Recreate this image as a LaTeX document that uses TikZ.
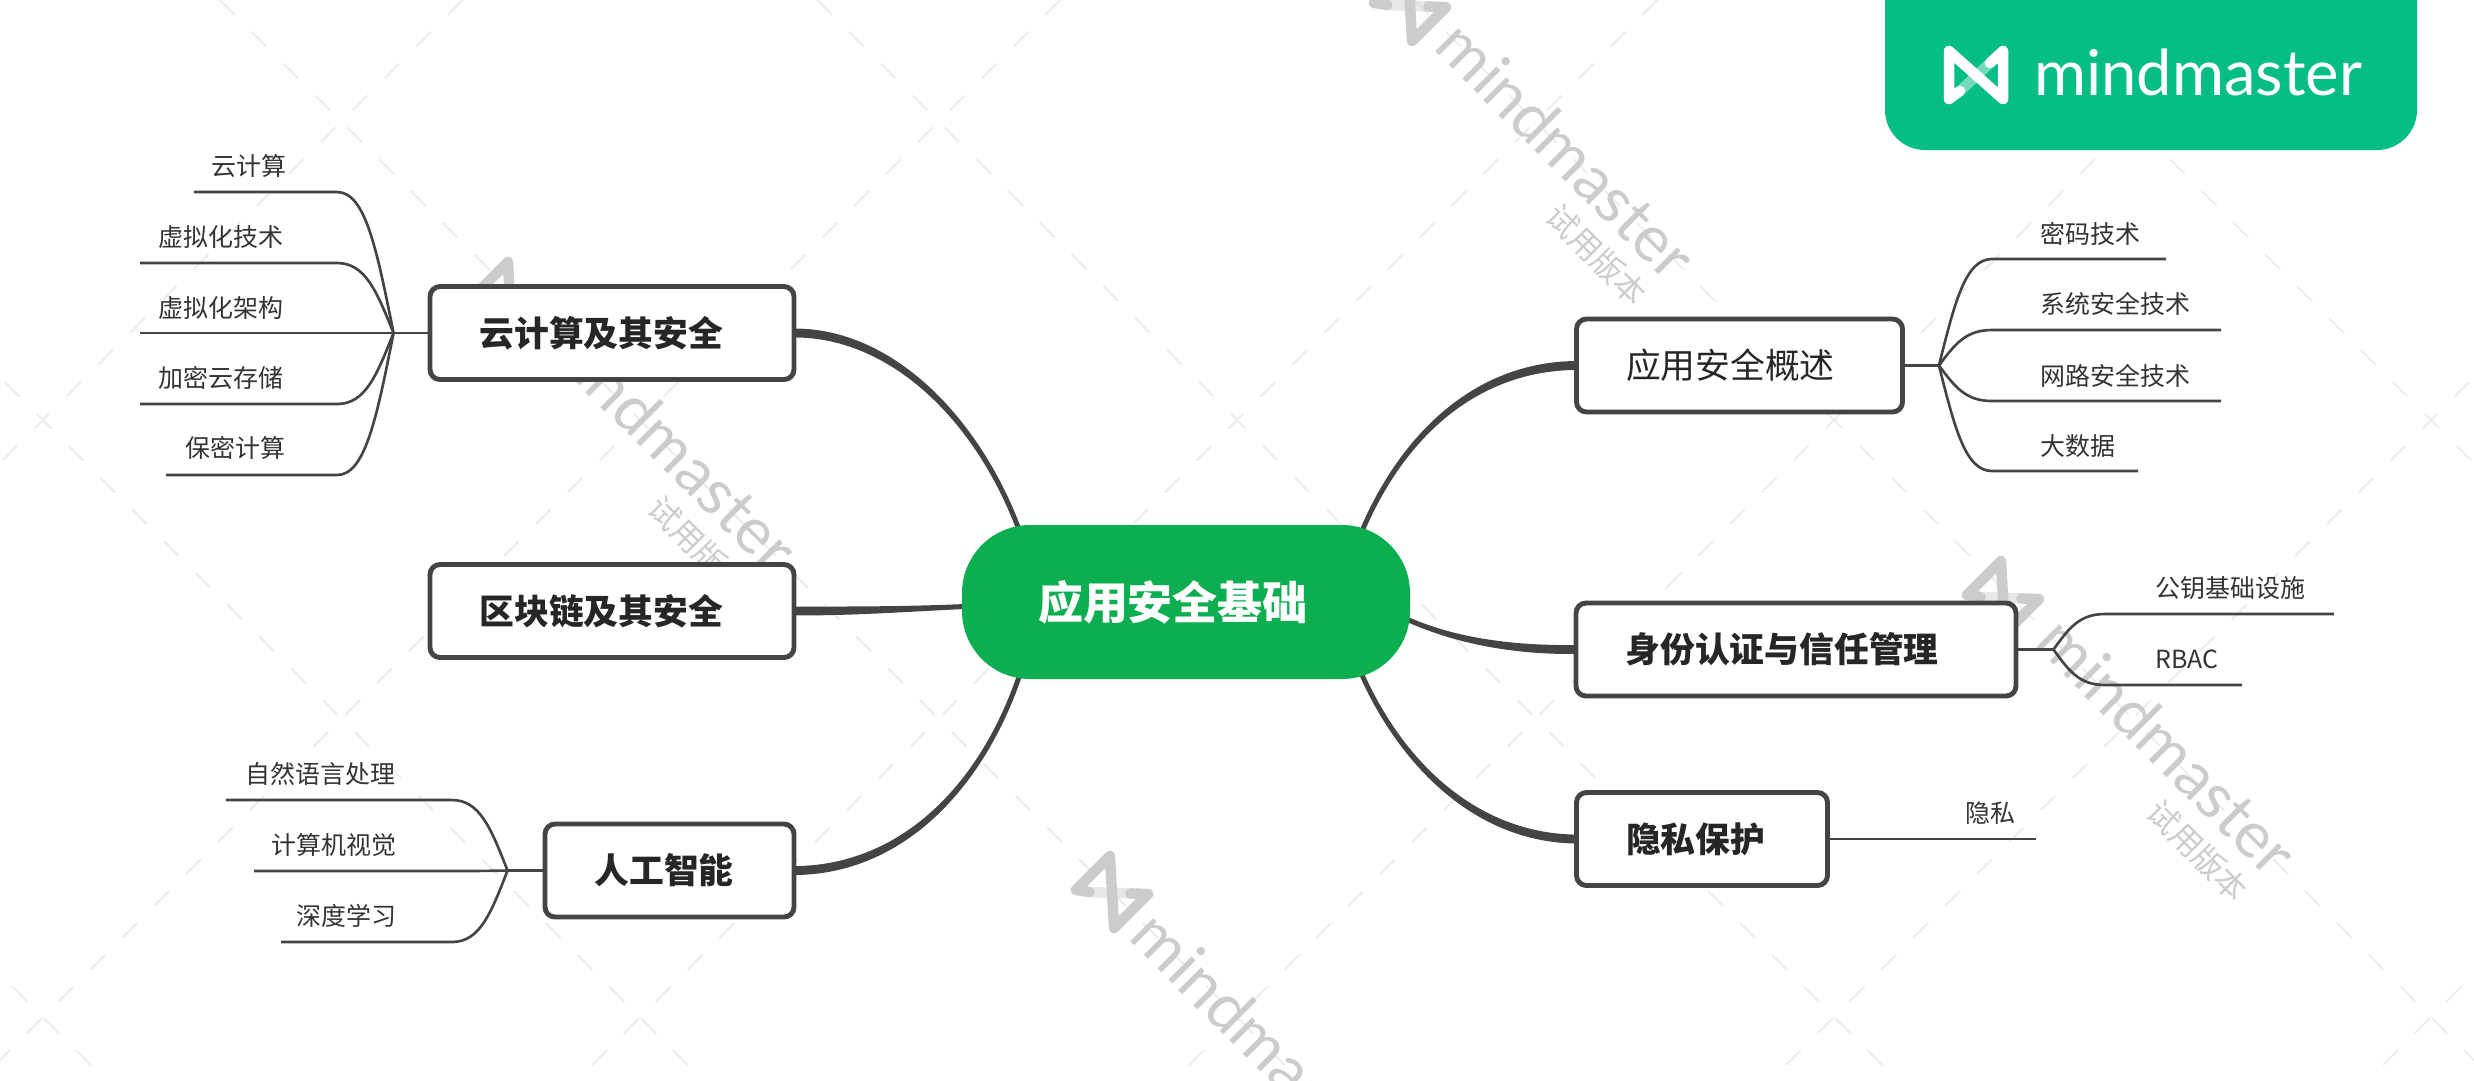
\documentclass[tikz,border=0pt]{standalone}
\usepackage{fontspec}
\setmainfont{Noto Sans CJK SC}
\newfontfamily\logofont{Lato}
\usetikzlibrary{calc,backgrounds}
\definecolor{rootgreen}{HTML}{0CAE50}
\definecolor{logogreen}{HTML}{05BD85}
\definecolor{inkgrey}{HTML}{444444}
\definecolor{wmgrey}{HTML}{CACCCE}

\begin{document}
\begin{tikzpicture}[x=0.1mm,y=-0.1mm,
  topicbox/.style={draw=inkgrey,line width=1.4pt,fill=white,rounded corners=0.1cm,align=left,inner xsep=0.495cm,minimum height=0.93cm,text=black!85,font=\fontsize{9.9pt}{12pt}\selectfont},
  leaf/.style={inner sep=0pt,text=black!80,font=\fontsize{7.1pt}{9pt}\selectfont},
  twig/.style={draw=inkgrey,line width=0.75pt},
  trunk/.style={draw=inkgrey,fill=inkgrey,line width=1.4pt,line join=round},
  wmark/.style={rotate=-45,text=wmgrey,inner sep=0pt,font=\logofont\fontsize{18.3pt}{20pt}\selectfont},
  wmnote/.style={rotate=-45,text=black!20,inner sep=0pt,font=\fontsize{9pt}{11pt}\selectfont},
  wmgrid/.style={draw=black!8,line width=0.5pt,dash pattern=on 0.21cm off 0.24cm}]

\newcommand{\mytwig}[3]{% hub, bend x, free end
\draw[twig] let \p1=(#1), \p2=(#3), \p3=(#2,0) in (#1) .. controls ({\x1+0.3*(\x3-\x1)},{\y1+0.6*(\y2-\y1)}) and ({0.5*(\x1+\x3)},\y2) .. (\x3,\y2) -- (#3);
}
\newcommand{\mybranch}[4]{% thick end, thin end, control 1, control 2
\filldraw[trunk] ($(#1)+(0,-2)$) .. controls ($(#3)+(0,-2)$) and (#4) .. (#2) .. controls (#4) and ($(#3)+(0,2)$) .. ($(#1)+(0,2)$) -- cycle;
}
\newcommand{\myicon}[4]{% x, y, angle, colour
\begin{scope}[shift={(#1,#2)},rotate=#3]
\draw[#4,line width=3pt,line join=round,line cap=round] (-16,16) -- (-27,24) -- (-27,-24) -- (27,24) -- (27,-24) -- (14,-12);
\draw[#4,opacity=0.45,line width=3pt] (-16,16) -- (14,-12);
\end{scope}
}

\useasboundingbox (0,0) rectangle (2474,1080);

%watermark
\begin{scope}[on background layer]
\clip (0,0) rectangle (2474,1080);
\foreach \s in {463,1060,1657,2254,2851,3448} {
  \draw[wmgrid] (\s,0) -- (\s-1080,1080);
}
\foreach \s in {-974,-377,220,817,1414,2011} {
  \draw[wmgrid] (\s,0) -- (\s+1080,1080);
}
\myicon{1410}{5}{-45}{wmgrey}
\node[wmark] (wmtop) at (1567,150) {mindmaster};
\node[wmnote] (wmtopnote) at (1597,255) {试用版本};
\myicon{510}{298}{-45}{wmgrey}
\node[wmark] (wmleft) at (669,442) {mindmaster};
\node[wmnote] (wmleftnote) at (699,547) {试用版本};
\myicon{2003}{597}{-45}{wmgrey}
\node[wmark] (wmright) at (2168,746) {mindmaster};
\node[wmnote] (wmrightnote) at (2198,851) {试用版本};
\myicon{1112}{892}{-45}{wmgrey}
\node[wmark] (wmbottom) at (1262,1040) {mindmaster};
\end{scope}

%logo
\begin{scope}
\clip (0,0) rectangle (2474,1080);
\node[fill=logogreen,rounded corners=0.4cm,minimum width=5.32cm,minimum height=2.5cm,inner sep=0pt] (logobox) at (2151,25) {};
\myicon{1976}{75}{0}{white}
\node[text=white,inner sep=0pt,font=\logofont\fontsize{18pt}{20pt}\selectfont] (logotext) at (2198,72) {mindmaster};
\end{scope}

%root
\node[fill=rootgreen,text=white,rounded corners=0.68cm,align=left,inner xsep=0.76cm,text width=2.96cm,minimum height=1.54cm,font=\fontsize{12.8pt}{15pt}\selectfont\bfseries] (root) at (1186,602) {应用安全基础};

%topics on the left
\node[topicbox,text width=2.65cm,font=\fontsize{9.9pt}{12pt}\selectfont\bfseries] (cloud) at (612,333) {云计算及其安全};
\node[topicbox,text width=2.65cm,font=\fontsize{9.9pt}{12pt}\selectfont\bfseries] (chain) at (612,611) {区块链及其安全};
\node[topicbox,text width=1.50cm,font=\fontsize{9.9pt}{12pt}\selectfont\bfseries] (ai) at (669.5,870.5) {人工智能};
%topics on the right
\node[topicbox,text width=2.27cm] (overview) at (1739.5,365.5) {应用安全概述};
\node[topicbox,text width=3.41cm,font=\fontsize{9.9pt}{12pt}\selectfont\bfseries] (identity) at (1796,649.5) {身份认证与信任管理};
\node[topicbox,text width=1.52cm,font=\fontsize{9.9pt}{12pt}\selectfont\bfseries] (privacy) at (1702,839) {隐私保护};

%trunks
\coordinate (rootcloud) at (1018,527);
\coordinate (rootchain) at (975,606);
\coordinate (rootai) at (1019,677);
\coordinate (rootoverview) at (1362,531);
\coordinate (rootidentity) at (1400,616);
\coordinate (rootprivacy) at (1362,675);
\begin{scope}[on background layer]
\mybranch{cloud.east}{rootcloud}{890,334}{975,415}
\mybranch{chain.east}{rootchain}{860,611}{910,609}
\mybranch{ai.east}{rootai}{900,869}{980,790}
\mybranch{overview.west}{rootoverview}{1480,367}{1405,430}
\mybranch{identity.west}{rootidentity}{1510,650}{1450,640}
\mybranch{privacy.west}{rootprivacy}{1480,837}{1405,770}
\end{scope}

%cloud leaves
\coordinate (hubcloud) at ($(cloud.west)+(-34,0)$);
\draw[twig] (cloud.west) -- (hubcloud);
\node[leaf,anchor=east] (yunjisuan) at (287,166) {云计算};
\coordinate (yunjisuanend) at (194,192);
\mytwig{hubcloud}{337}{yunjisuanend}
\node[leaf,anchor=east] (xunijishu) at (284,237) {虚拟化技术};
\coordinate (xunijishuend) at (140,263);
\mytwig{hubcloud}{337}{xunijishuend}
\node[leaf,anchor=east] (xunijiagou) at (284,308) {虚拟化架构};
\coordinate (xunijiagouend) at (140,333);
\mytwig{hubcloud}{337}{xunijiagouend}
\node[leaf,anchor=east] (jiami) at (284,378) {加密云存储};
\coordinate (jiamiend) at (140,404);
\mytwig{hubcloud}{337}{jiamiend}
\node[leaf,anchor=east] (baomi) at (286,448) {保密计算};
\coordinate (baomiend) at (166,475);
\mytwig{hubcloud}{337}{baomiend}

%ai leaves
\coordinate (hubai) at ($(ai.west)+(-35,0)$);
\draw[twig] (ai.west) -- (hubai);
\node[leaf,anchor=east] (ziran) at (396,774) {自然语言处理};
\coordinate (ziranend) at (226,800);
\mytwig{hubai}{452}{ziranend}
\node[leaf,anchor=east] (shijue) at (397,845) {计算机视觉};
\coordinate (shijueend) at (254,871);
\mytwig{hubai}{452}{shijueend}
\node[leaf,anchor=east] (shendu) at (397,916) {深度学习};
\coordinate (shenduend) at (281,942);
\mytwig{hubai}{452}{shenduend}

%overview leaves
\coordinate (huboverview) at ($(overview.east)+(34,0)$);
\draw[twig] (overview.east) -- (huboverview);
\node[leaf,anchor=west] (mima) at (2040,234) {密码技术};
\coordinate (mimaend) at (2166,259);
\mytwig{huboverview}{1992}{mimaend}
\node[leaf,anchor=west] (xitong) at (2040,304) {系统安全技术};
\coordinate (xitongend) at (2221,330);
\mytwig{huboverview}{1992}{xitongend}
\node[leaf,anchor=west] (wanglu) at (2040,376) {网路安全技术};
\coordinate (wangluend) at (2221,401);
\mytwig{huboverview}{1992}{wangluend}
\node[leaf,anchor=west] (dashuju) at (2040,446) {大数据};
\coordinate (dashujuend) at (2138,471);
\mytwig{huboverview}{1992}{dashujuend}

%identity leaves
\coordinate (hubidentity) at ($(identity.east)+(35,0)$);
\draw[twig] (identity.east) -- (hubidentity);
\node[leaf,anchor=west] (gongyao) at (2155,588) {公钥基础设施};
\coordinate (gongyaoend) at (2334,614);
\mytwig{hubidentity}{2105}{gongyaoend}
\node[leaf,anchor=west] (rbac) at (2155,659) {RBAC};
\coordinate (rbacend) at (2242,685);
\mytwig{hubidentity}{2105}{rbacend}

%privacy leaf
\node[leaf,anchor=west] (yinsi) at (1965,813) {隐私};
\coordinate (yinsiend) at (2036,839);
\draw[twig] (privacy.east) -- (yinsiend);

\end{tikzpicture}
\end{document}
